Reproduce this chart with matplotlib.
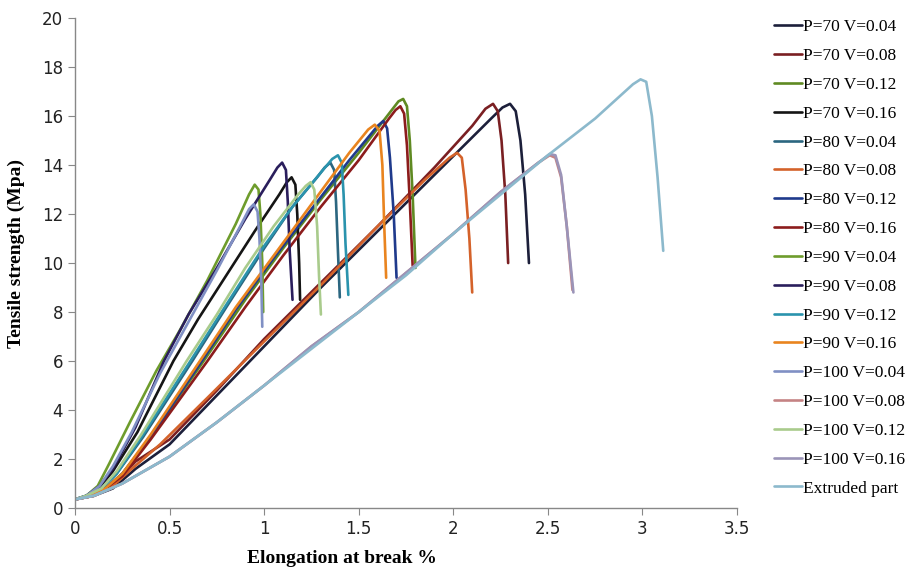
import matplotlib
matplotlib.use("Agg")
import matplotlib.pyplot as plt

# series (elongation %, tensile strength MPa)
p70_v004_x = [0, 0.1, 0.2, 0.32, 0.5, 0.75, 1.0, 1.3, 1.6, 1.9, 2.2, 2.26, 2.30, 2.33, 2.355, 2.38, 2.40]
p70_v004_y = [0.35, 0.5, 0.8, 1.6, 2.6, 4.6, 6.6, 9.0, 11.3, 13.6, 15.9, 16.35, 16.5, 16.2, 15.0, 12.8, 10.0]

p70_v008_x = [0, 0.1, 0.2, 0.32, 0.5, 0.75, 1.0, 1.3, 1.6, 1.9, 2.1, 2.17, 2.21, 2.235, 2.255, 2.275, 2.29]
p70_v008_y = [0.35, 0.5, 0.9, 1.9, 2.8, 4.8, 6.9, 9.2, 11.5, 13.9, 15.6, 16.3, 16.5, 16.2, 15.0, 12.8, 10.0]

p70_v012_x = [0, 0.08, 0.16, 0.25, 0.4, 0.68, 0.9, 1.1, 1.3, 1.5, 1.68, 1.71, 1.735, 1.755, 1.77, 1.785, 1.80]
p70_v012_y = [0.35, 0.5, 0.8, 1.4, 2.9, 6.0, 8.5, 10.6, 12.6, 14.5, 16.3, 16.6, 16.7, 16.4, 15.0, 12.8, 9.8]

p70_v016_x = [0, 0.06, 0.13, 0.2, 0.33, 0.52, 0.65, 0.8, 0.95, 1.08, 1.12, 1.145, 1.165, 1.175, 1.185, 1.19]
p70_v016_y = [0.35, 0.5, 0.85, 1.5, 3.1, 6.0, 7.7, 9.5, 11.3, 12.8, 13.3, 13.5, 13.2, 12.0, 10.0, 8.5]

p80_v004_x = [0, 0.06, 0.14, 0.22, 0.36, 0.62, 0.8, 1.0, 1.15, 1.28, 1.32, 1.35, 1.37, 1.38, 1.39, 1.40]
p80_v004_y = [0.35, 0.5, 0.8, 1.4, 2.9, 6.0, 8.2, 10.6, 12.3, 13.5, 13.9, 14.1, 13.8, 12.5, 10.5, 8.6]

p80_v008_x = [0, 0.1, 0.2, 0.3, 0.45, 0.7, 1.0, 1.3, 1.6, 1.85, 1.98, 2.02, 2.045, 2.065, 2.085, 2.10]
p80_v008_y = [0.35, 0.5, 0.9, 1.6, 2.6, 4.5, 6.8, 9.1, 11.5, 13.4, 14.3, 14.5, 14.3, 13.0, 11.0, 8.8]

p80_v012_x = [0, 0.08, 0.16, 0.25, 0.4, 0.67, 0.85, 1.05, 1.25, 1.45, 1.6, 1.63, 1.65, 1.665, 1.685, 1.70]
p80_v012_y = [0.35, 0.5, 0.8, 1.4, 2.9, 6.0, 8.1, 10.2, 12.2, 14.2, 15.6, 15.8, 15.5, 14.3, 12.0, 9.4]

p80_v016_x = [0, 0.08, 0.16, 0.25, 0.4, 0.7, 0.9, 1.1, 1.3, 1.5, 1.66, 1.695, 1.72, 1.74, 1.755, 1.77, 1.785]
p80_v016_y = [0.35, 0.5, 0.8, 1.3, 2.8, 6.0, 8.2, 10.3, 12.3, 14.2, 15.9, 16.25, 16.4, 16.1, 14.8, 12.5, 9.9]

p90_v004_x = [0, 0.06, 0.12, 0.18, 0.29, 0.43, 0.55, 0.7, 0.85, 0.92, 0.95, 0.97, 0.98, 0.99, 0.995]
p90_v004_y = [0.35, 0.5, 0.9, 1.8, 3.5, 5.6, 7.2, 9.3, 11.6, 12.8, 13.2, 13.0, 12.0, 10.0, 8.0]

p90_v008_x = [0, 0.06, 0.13, 0.2, 0.32, 0.47, 0.6, 0.75, 0.9, 1.03, 1.07, 1.095, 1.115, 1.125, 1.135, 1.15]
p90_v008_y = [0.35, 0.5, 0.9, 1.6, 3.3, 6.0, 7.9, 9.8, 11.8, 13.4, 13.9, 14.1, 13.8, 12.5, 10.5, 8.5]

p90_v012_x = [0, 0.06, 0.14, 0.22, 0.36, 0.61, 0.8, 1.0, 1.15, 1.3, 1.36, 1.39, 1.41, 1.42, 1.43, 1.445]
p90_v012_y = [0.35, 0.5, 0.8, 1.4, 3.0, 6.0, 8.3, 10.7, 12.3, 13.7, 14.25, 14.4, 14.1, 12.8, 10.8, 8.7]

p90_v016_x = [0, 0.08, 0.16, 0.25, 0.4, 0.66, 0.85, 1.05, 1.25, 1.45, 1.55, 1.585, 1.61, 1.625, 1.635, 1.645]
p90_v016_y = [0.35, 0.5, 0.8, 1.4, 3.0, 6.0, 8.2, 10.3, 12.4, 14.5, 15.45, 15.65, 15.4, 14.0, 11.5, 9.4]

p100_v004_x = [0, 0.06, 0.13, 0.2, 0.3, 0.45, 0.6, 0.75, 0.88, 0.92, 0.945, 0.965, 0.975, 0.985, 0.99]
p100_v004_y = [0.35, 0.5, 0.9, 1.7, 3.1, 5.5, 7.6, 9.7, 11.6, 12.2, 12.4, 12.1, 11.0, 9.2, 7.4]

p100_v008_x = [0, 0.1, 0.25, 0.5, 0.75, 1.0, 1.25, 1.5, 1.75, 2.0, 2.25, 2.45, 2.51, 2.54, 2.57, 2.6, 2.63]
p100_v008_y = [0.35, 0.5, 1.0, 2.1, 3.5, 5.0, 6.6, 8.0, 9.6, 11.2, 12.9, 14.1, 14.4, 14.3, 13.5, 11.5, 8.9]

p100_v012_x = [0, 0.06, 0.14, 0.22, 0.35, 0.59, 0.75, 0.9, 1.05, 1.18, 1.22, 1.245, 1.265, 1.28, 1.29, 1.30]
p100_v012_y = [0.35, 0.5, 0.8, 1.5, 3.0, 6.0, 7.9, 9.8, 11.5, 12.8, 13.15, 13.3, 13.0, 11.5, 9.5, 7.9]

p100_v016_x = [0, 0.1, 0.25, 0.5, 0.75, 1.0, 1.25, 1.5, 1.75, 2.0, 2.25, 2.45, 2.51, 2.54, 2.57, 2.6, 2.635]
p100_v016_y = [0.35, 0.5, 1.0, 2.1, 3.5, 5.0, 6.6, 8.0, 9.6, 11.2, 12.9, 14.1, 14.45, 14.4, 13.6, 11.5, 8.8]

extruded_x = [0, 0.1, 0.25, 0.5, 0.75, 1.0, 1.25, 1.5, 1.75, 2.0, 2.25, 2.5, 2.75, 2.95, 2.99, 3.02, 3.05, 3.08, 3.11]
extruded_y = [0.35, 0.5, 1.0, 2.1, 3.5, 5.0, 6.5, 8.0, 9.5, 11.2, 12.8, 14.4, 15.9, 17.3, 17.5, 17.4, 16.0, 13.5, 10.5]

labels = ["P=70 V=0.04", "P=70 V=0.08", "P=70 V=0.12", "P=70 V=0.16",
          "P=80 V=0.04", "P=80 V=0.08", "P=80 V=0.12", "P=80 V=0.16",
          "P=90 V=0.04", "P=90 V=0.08", "P=90 V=0.12", "P=90 V=0.16",
          "P=100 V=0.04", "P=100 V=0.08", "P=100 V=0.12", "P=100 V=0.16",
          "Extruded part"]

series = [
    (p70_v004_x, p70_v004_y), (p70_v008_x, p70_v008_y),
    (p70_v012_x, p70_v012_y), (p70_v016_x, p70_v016_y),
    (p80_v004_x, p80_v004_y), (p80_v008_x, p80_v008_y),
    (p80_v012_x, p80_v012_y), (p80_v016_x, p80_v016_y),
    (p90_v004_x, p90_v004_y), (p90_v008_x, p90_v008_y),
    (p90_v012_x, p90_v012_y), (p90_v016_x, p90_v016_y),
    (p100_v004_x, p100_v004_y), (p100_v008_x, p100_v008_y),
    (p100_v012_x, p100_v012_y), (p100_v016_x, p100_v016_y),
    (extruded_x, extruded_y),
]

colors = ["#1c1f3a", "#7a1f22", "#5f8a22", "#151515",
          "#2b6680", "#d4622a", "#1f3a8c", "#8c1c1c",
          "#6e9c2c", "#2a1e5c", "#2a93ad", "#e9841f",
          "#8090c4", "#c58384", "#a9cb8c", "#9b94b8",
          "#8cb9cc"]

fig = plt.figure(figsize=(9.16, 5.73), dpi=100)
ax = fig.add_axes([0.0819, 0.1134, 0.7227, 0.855])

for (xs, ys), lab, c in zip(series, labels, colors):
    ax.plot(xs, ys, color=c, lw=1.9, label=lab,
            solid_joinstyle="round", solid_capstyle="round")

ax.set_xlim(0, 3.5)
ax.set_ylim(0, 20)
ax.set_xticks([0, 0.5, 1, 1.5, 2, 2.5, 3, 3.5])
ax.set_xticklabels(["0", "0.5", "1", "1.5", "2", "2.5", "3", "3.5"])
ax.set_yticks(range(0, 21, 2))

for s in ["top", "right"]:
    ax.spines[s].set_visible(False)
for s in ["left", "bottom"]:
    ax.spines[s].set_color("#888888")
    ax.spines[s].set_linewidth(1.0)
ax.tick_params(direction="out", length=5, color="#888888", labelsize=12,
               labelcolor="#222222")

ax.set_xlabel("Elongation at break %", family="Liberation Serif",
              fontweight="bold", fontsize=14)
ax.xaxis.set_label_coords(0.403, -0.085)
ax.set_ylabel("Tensile strength (Mpa)", family="Liberation Serif",
              fontweight="bold", fontsize=14)
ax.yaxis.set_label_coords(-0.075, 0.52)

leg = ax.legend(loc="upper left", bbox_to_anchor=(1.045, 1.012), frameon=False,
                prop={"family": "Liberation Serif", "size": 12.5},
                handlelength=1.6, handletextpad=0.1, labelspacing=0.73,
                borderaxespad=0)

fig.savefig("out.png", dpi=100)
